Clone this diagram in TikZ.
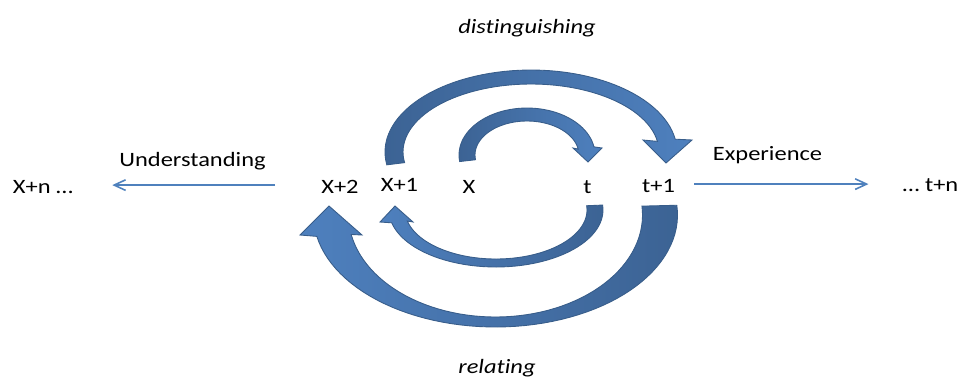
\documentclass[tikz,border=0pt]{standalone}
\usepackage{fontspec}
\setmainfont{Carlito}[FakeStretch=1.2,Ligatures={NoCommon,NoContextual}]
\usetikzlibrary{arrows.meta,positioning}
\definecolor{flowblue}{RGB}{79,129,189}
\definecolor{banddark}{RGB}{60,99,148}
\definecolor{bandlight}{RGB}{78,128,190}
\definecolor{bandline}{RGB}{56,93,138}

\begin{document}
\begin{tikzpicture}[x=0.02cm,y=-0.02cm,font=\fontsize{11.6}{14}\selectfont,
  lbl/.style={anchor=base,text height=1em,text depth=0.1em},
  flow/.style={draw=flowblue,line width=0.9pt,-{Straight Barb[length=6.5pt,width=6pt]}},
  band/.style 2 args={draw=bandline,line width=0.5pt,left color=#1,right color=#2}]
  \useasboundingbox (0,0) rectangle (962,380);
  % ---- distinguishing: X+1 -> t+1 and X -> t
  \path[band={banddark}{bandlight}]
    plot[domain=189:9,samples=60,variable=\a] ({531+146*cos(\a)},{152-82*sin(\a)})
    -- (692,140) -- (666,163) -- (643,140)
    -- plot[domain=9:189,samples=60,variable=\a] ({531+128*cos(\a)},{152-68*sin(\a)}) -- cycle;
  \path[band={banddark}{bandlight}]
    plot[domain=188:10,samples=50,variable=\a] ({527+68*cos(\a)},{155-47*sin(\a)})
    -- (602,148) -- (588,162) -- (573,148)
    -- plot[domain=10:188,samples=50,variable=\a] ({527+52*cos(\a)},{155-34*sin(\a)}) -- cycle;
  % ---- relating: t -> X+1 and t+1 -> X+2
  \path[band={bandlight}{banddark}]
    plot[domain=-5:167,samples=50,variable=\a] ({496+107*cos(\a)},{210+57*sin(\a)})
    -- (380,222) -- (395,206) -- (413,222)
    -- plot[domain=167:-5,samples=50,variable=\a] ({496+91*cos(\a)},{210+49*sin(\a)}) -- cycle;
  \path[band={bandlight}{banddark}]
    plot[domain=-5:169,samples=60,variable=\a] ({495.5+182*cos(\a)},{215+112*sin(\a)})
    -- (300,235) -- (329,206) -- (362,235)
    -- plot[domain=169:-5,samples=60,variable=\a] ({495.5+147*cos(\a)},{215+102*sin(\a)}) -- cycle;
  % ---- labels
  \node[lbl] (xn) at (43,193) {X+n …};
  \node[lbl] (xtwo) at (340,193) {X+2};
  \node[lbl] (xone) at (399.5,191) {X+1};
  \node[lbl] (x) at (469,193) {X};
  \node[lbl] (t) at (587.5,193) {t};
  \node[lbl] (tone) at (658.5,192) {t+1};
  \node[lbl] (tn) at (930.5,191) {… t+n};
  \node[lbl] (und) at (192.5,166) {Understanding};
  \node[lbl] (exp) at (767.5,160) {Experience};
  \node[lbl] (dist) at (527,33) {\itshape distinguishing};
  \node[lbl] (rel) at (497,373) {\itshape relating};
  % ---- time arrows
  \draw[flow,shorten <=0.8cm,shorten >=0.66cm] (xtwo.west) -- (xtwo.west -| xn.east);
  \draw[flow,shorten <=0.26cm,shorten >=0.56cm] (tone.east) -- (tone.east -| tn.west);
\end{tikzpicture}
\end{document}
